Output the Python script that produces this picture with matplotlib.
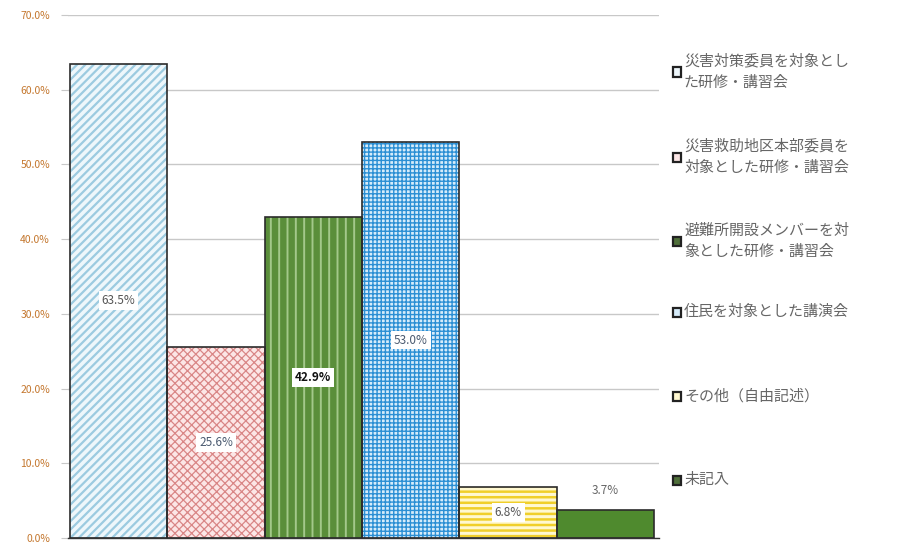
import matplotlib
matplotlib.use("Agg")
import matplotlib.pyplot as plt
from matplotlib.patches import Rectangle

plt.rcParams['font.family'] = ['Noto Sans CJK JP', 'DejaVu Sans']

categories = [
    "災害対策委員を対象とし\nた研修・講習会",
    "災害救助地区本部委員を\n対象とした研修・講習会",
    "避難所開設メンバーを対\n象とした研修・講習会",
    "住民を対象とした講演会",
    "その他（自由記述）",
    "未記入",
]
values = [63.5, 25.6, 42.9, 53.0, 6.8, 3.7]
value_labels = ["63.5%", "25.6%", "42.9%", "53.0%", "6.8%", "3.7%"]
y_ticks = [0, 10, 20, 30, 40, 50, 60, 70]
y_tick_labels = ["0.0%", "10.0%", "20.0%", "30.0%", "40.0%", "50.0%", "60.0%", "70.0%"]

faces = ["#eef7fb", "#fce6e6", "#5a8e3a", "#d6ecfa", "#fff8d0", "#4f8a2e"]
hatch_colors = ["#9ccbe0", "#d98686", "#a3c88a", "#2b8fd4", "#f0cf2a", "#4f8a2e"]
hatches = ["////", "xxxx", "||", "++++", "---", ""]
hatch_lw = [1.6, 0.9, 1.4, 1.0, 1.8, 1.0]
label_colors = ["#555555", "#4a5a70", "#111111", "#4a5a70", "#555555", "#666666"]

W, H = 903, 547
fig = plt.figure(figsize=(W / 100, H / 100), dpi=100)
left, right, top, bottom = 68, 659, 15, 538
ax = fig.add_axes([left / W, 1 - bottom / H, (right - left) / W, (bottom - top) / H])

for i, v in enumerate(values):
    plt.rcParams['hatch.linewidth'] = hatch_lw[i]
    ax.bar(i, v, width=1.0, color=faces[i], edgecolor=hatch_colors[i],
           hatch=hatches[i], linewidth=0, zorder=2)
    ax.bar(i, v, width=1.0, fill=False, edgecolor="#2b2b2b", linewidth=1.2, zorder=3)

for i, v in enumerate(values):
    if i == len(values) - 1:
        ax.text(i, v + 2.6, value_labels[i], ha="center", va="center",
                fontsize=8.5, color=label_colors[i], zorder=5)
    else:
        ax.text(i, v / 2, value_labels[i], ha="center", va="center",
                fontsize=8.5, color=label_colors[i], zorder=5,
                fontweight="bold" if i == 2 else "normal",
                bbox=dict(boxstyle="square,pad=0.25", fc="white", ec="none"))

ax.set_xlim(-0.52, len(values) - 0.45)
ax.set_ylim(0, 70)
ax.set_yticks(y_ticks)
ax.set_yticklabels(y_tick_labels, fontsize=7.5, color="#c4772e")
ax.set_xticks([])
ax.yaxis.grid(True, color="#c8c8c8", linewidth=1.0, zorder=0)
ax.set_axisbelow(True)
for s in ["top", "right", "left"]:
    ax.spines[s].set_visible(False)
ax.spines["bottom"].set_color("#333333")
ax.spines["bottom"].set_linewidth(1.0)
ax.tick_params(axis="y", length=5, color="#c8c8c8", pad=8)

# legend
legend_y = [72, 157, 241, 312, 396, 480]
for i, lab in enumerate(categories):
    yc = 1 - legend_y[i] / H
    fig.patches.append(Rectangle((673 / W, yc - 4.5 / H), 8 / W, 9 / H,
                                 transform=fig.transFigure,
                                 facecolor=faces[i] if i not in (2, 5) else "#4f6f3a",
                                 edgecolor="#222222", linewidth=1.6))
    fig.text(684 / W, yc, lab, fontsize=10.8, color="#666666", va="center", ha="left",
             linespacing=1.65)

fig.savefig("out.png", dpi=100)
